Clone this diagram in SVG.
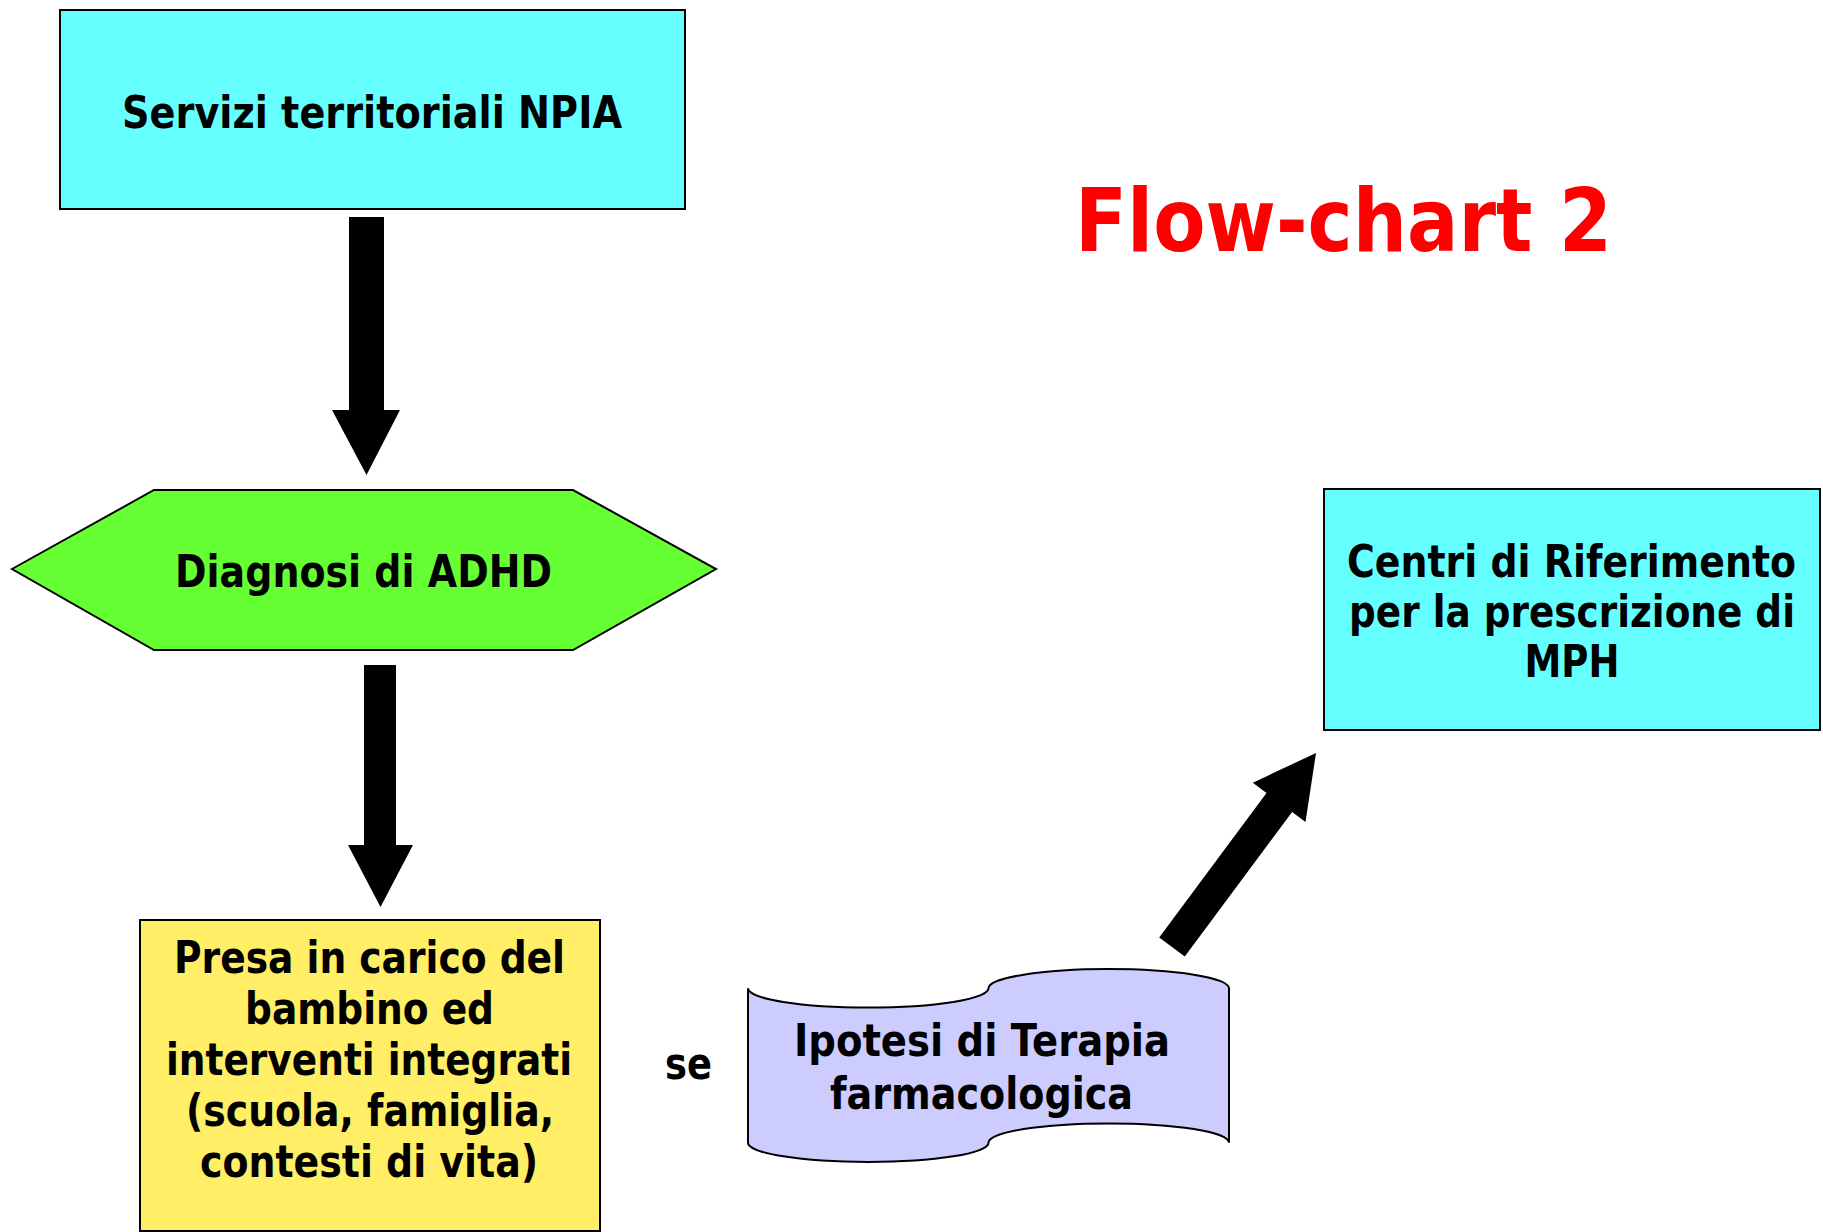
<svg xmlns="http://www.w3.org/2000/svg" width="1823" height="1232" viewBox="0 0 1823 1232">
<style>
.box{stroke:#000;stroke-width:2}
.t{font-family:"DejaVu Sans","Liberation Sans",sans-serif;font-weight:bold;font-size:44px;fill:#000;text-anchor:middle}
.title{font-family:"DejaVu Sans","Liberation Sans",sans-serif;font-weight:bold;font-size:88px;fill:#FF0000;text-anchor:middle}
.arr{fill:#000;stroke:none}
</style>
<rect width="1823" height="1232" fill="#FFFFFF"/>
<text class="title" transform="translate(1343.5,251) scale(0.9,1)" x="0" y="0" textLength="596.7" lengthAdjust="spacingAndGlyphs">Flow-chart 2</text>
<g id="connectors">
<polygon class="arr" points="349,217 384,217 384,410 400,410 366.5,475 332,410 349,410"/>
<polygon class="arr" points="364,665 396,665 396,845 413,845 380.5,907 348,845 364,845"/>
<polygon class="arr" points="1159.2,937.5 1266.5,792.9 1252.8,782.7 1316,753 1305.5,822.1 1292.1,811.9 1184.8,956.5"/>
</g>
<g id="servizi">
<rect class="box" x="60" y="10" width="625" height="199" fill="#66FFFF"/>
<text class="t" transform="translate(372,128) scale(0.87,1)" x="0" y="0" textLength="574.7" lengthAdjust="spacingAndGlyphs">Servizi territoriali NPIA</text>
</g>
<g id="diagnosi">
<polygon class="box" points="12,569 154,490 573,490 716,569 573,650 154,650" fill="#66FF33"/>
<text class="t" transform="translate(363.5,587) scale(0.87,1)" x="0" y="0" textLength="433.3" lengthAdjust="spacingAndGlyphs">Diagnosi di ADHD</text>
</g>
<g id="presa">
<rect class="box" x="140" y="920" width="460" height="311" fill="#FFEE66"/>
<text class="t" transform="translate(369.5,973) scale(0.87,1)" x="0" y="0" textLength="449.4" lengthAdjust="spacingAndGlyphs">Presa in carico del</text>
<text class="t" transform="translate(369.5,1024) scale(0.87,1)" x="0" y="0" textLength="286.2" lengthAdjust="spacingAndGlyphs">bambino ed</text>
<text class="t" transform="translate(369,1075) scale(0.87,1)" x="0" y="0" textLength="466.7" lengthAdjust="spacingAndGlyphs">interventi integrati</text>
<text class="t" transform="translate(370,1126) scale(0.87,1)" x="0" y="0" textLength="423" lengthAdjust="spacingAndGlyphs">(scuola, famiglia,</text>
<text class="t" transform="translate(369,1177) scale(0.87,1)" x="0" y="0" textLength="388.5" lengthAdjust="spacingAndGlyphs">contesti di vita)</text>
</g>
<g id="se">
<text class="t" transform="translate(688.5,1079) scale(0.87,1)" x="0" y="0" textLength="54" lengthAdjust="spacingAndGlyphs">se</text>
</g>
<g id="ipotesi">
<path class="box" d="M748,988.3 A120.25,19.3 0 0 0 988.5,988.3 A120.25,19.3 0 0 1 1229,988.3 L1229,1142.7 A120.25,19.3 0 0 0 988.5,1142.7 A120.25,19.3 0 0 1 748,1142.7 Z" fill="#CCCCFF"/>
<text class="t" transform="translate(982,1056) scale(0.87,1)" x="0" y="0" textLength="432.2" lengthAdjust="spacingAndGlyphs">Ipotesi di Terapia</text>
<text class="t" transform="translate(981.5,1109) scale(0.87,1)" x="0" y="0" textLength="348.3" lengthAdjust="spacingAndGlyphs">farmacologica</text>
</g>
<g id="centri">
<rect class="box" x="1324" y="489" width="496" height="241" fill="#66FFFF"/>
<text class="t" transform="translate(1571.5,577) scale(0.87,1)" x="0" y="0" textLength="516.1" lengthAdjust="spacingAndGlyphs">Centri di Riferimento</text>
<text class="t" transform="translate(1572,627) scale(0.87,1)" x="0" y="0" textLength="512.6" lengthAdjust="spacingAndGlyphs">per la prescrizione di</text>
<text class="t" transform="translate(1572,677) scale(0.87,1)" x="0" y="0" textLength="109.2" lengthAdjust="spacingAndGlyphs">MPH</text>
</g>
</svg>
